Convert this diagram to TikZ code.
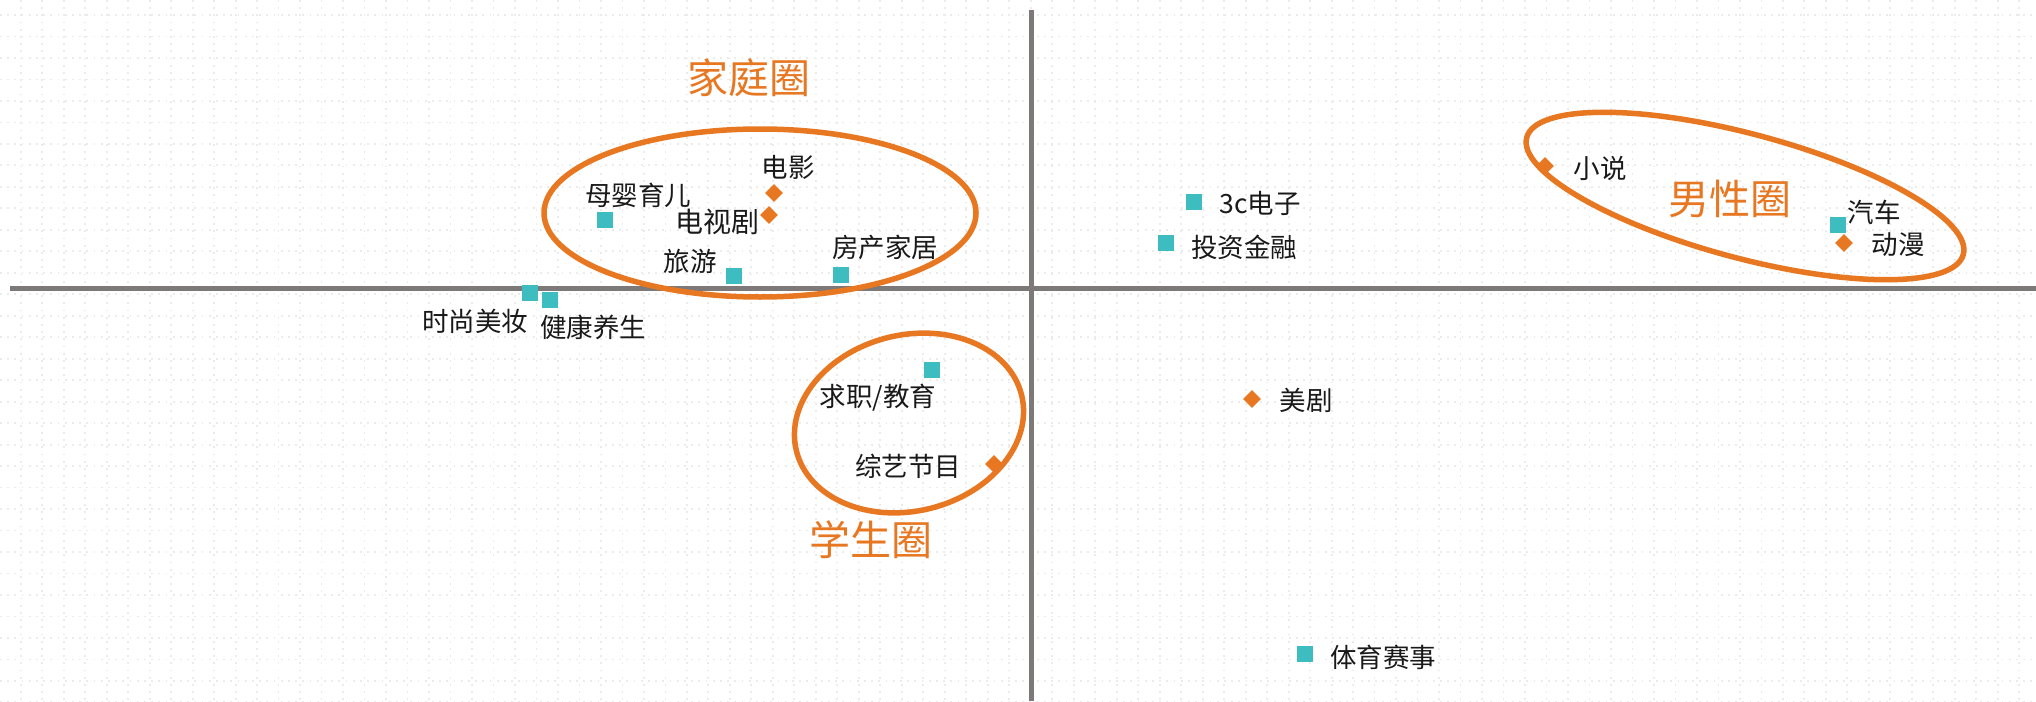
\documentclass[tikz,border=0pt]{standalone}
\usepackage{fontspec}
\setmainfont{Noto Sans CJK SC}
\usetikzlibrary{shapes.geometric}
\definecolor{orng}{HTML}{E87722}
\definecolor{tealc}{HTML}{3DBDBF}
\definecolor{axisgray}{HTML}{7D7979}
\definecolor{gridc}{HTML}{EBEBEB}
\tikzset{
  sq/.style={rectangle, fill=tealc, minimum size=16pt, inner sep=0pt, draw=none},
  dia/.style={diamond, fill=orng, minimum size=18pt, inner sep=0pt, draw=none},
  lbl/.style={font=\fontsize{26.5}{30}\selectfont, text=black!90, inner sep=0pt},
  lblbig/.style={font=\fontsize{28}{32}\selectfont, text=black!90, inner sep=0pt},
  circlbl/.style={font=\fontsize{41}{48}\selectfont, text=orng, inner sep=0pt},
  ring/.style={draw=orng, line width=5.5pt},
  axisline/.style={draw=axisgray, line width=5pt},
  gridl/.style={draw=gridc, line width=1.8pt, dash pattern=on 1.8pt off 5.4pt},
}
\begin{document}
\begin{tikzpicture}[x=1pt,y=-1pt]
\useasboundingbox (0,0) rectangle (2036,701);
\fill[white] (0,0) rectangle (2036,701);
% background dotted grid
\foreach \i in {0,...,32} \draw[gridl] (0,{15+21.48*\i}) -- (2036,{15+21.48*\i});
\foreach \i in {0,...,94} \draw[gridl] ({20.7+21.49*\i},0) -- ({20.7+21.49*\i},701);
% axes
\coordinate (xl) at (10,288);
\coordinate (xr) at (2036,288);
\coordinate (yt) at (1031,10);
\coordinate (yb) at (1031,701);
\draw[axisline] (xl) -- (xr);
\draw[axisline] (yt) -- (yb);
% rings
\draw[ring] (760,213) ellipse [x radius=216pt, y radius=84pt];
\draw[ring, rotate around={-15:(1745,196)}] (1745,196) ellipse [x radius=226pt, y radius=62pt];
\draw[ring, rotate around={14:(909,423)}] (909,423) ellipse [x radius=116pt, y radius=88pt];
% ring labels
\node[circlbl] (jt) at (749,78) {家庭圈};
\node[circlbl] (nx) at (1730,199) {男性圈};
\node[circlbl] (xs) at (871,540) {学生圈};
% teal squares
\node[sq] (p1) at (605,220) {};
\node[sq] (p2) at (734,276) {};
\node[sq] (p3) at (841,275) {};
\node[sq] (p4) at (530,293) {};
\node[sq] (p5) at (550,300) {};
\node[sq] (p6) at (1838,225) {};
\node[sq] (p7) at (932,370) {};
\node[sq] (p8) at (1194,202) {};
\node[sq] (p9) at (1166,243) {};
\node[sq] (p10) at (1305,654) {};
% orange diamonds
\node[dia] (d1) at (774,193) {};
\node[dia] (d2) at (769,215) {};
\node[dia] (d3) at (1545,166) {};
\node[dia] (d4) at (1844,243) {};
\node[dia] (d5) at (994,464) {};
\node[dia] (d6) at (1252,399) {};
% labels
\node[lbl] (l1) at (638,195) {母婴育儿};
\node[lbl] (l2) at (788,167) {电影};
\node[lblbig] (l3) at (717,222) {电视剧};
\node[lbl] (l4) at (690,261) {旅游};
\node[lbl] (l5) at (885,247) {房产家居};
\node[lbl] (l6) at (475,321) {时尚美妆};
\node[lbl] (l7) at (593,327) {健康养生};
\node[lbl] (l8) at (1600,168) {小说};
\node[lbl] (l9) at (1874,212) {汽车};
\node[lbl] (l10) at (1898,245) {动漫};
\node[lbl] (l11) at (878,398) {求职/教育};
\node[lbl] (l12) at (908,466) {综艺节目};
\node[lbl] (l13) at (1260,203) {3c电子};
\node[lbl] (l14) at (1244,247) {投资金融};
\node[lbl] (l15) at (1306,400) {美剧};
\node[lbl] (l16) at (1383,657) {体育赛事};
\end{tikzpicture}
\end{document}
